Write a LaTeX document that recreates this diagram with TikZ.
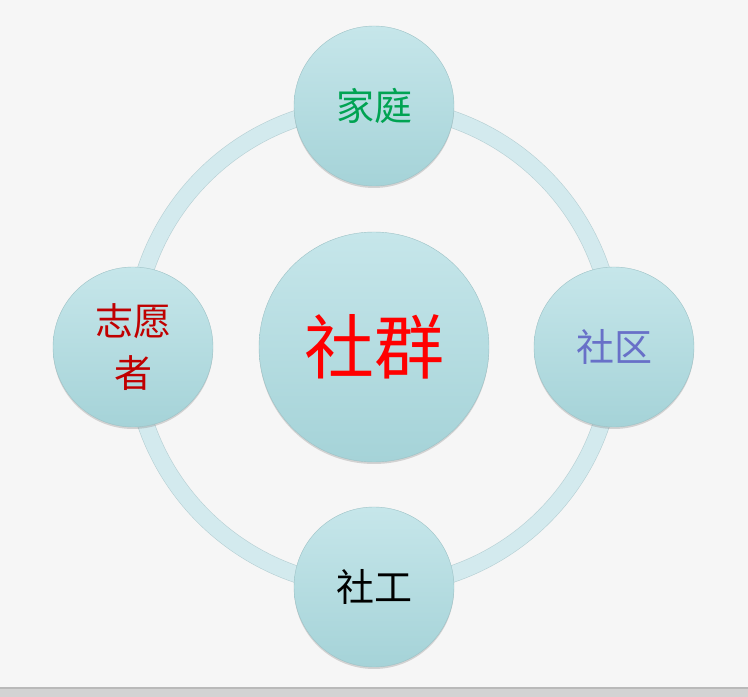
\documentclass[tikz,border=0pt]{standalone}
\usepackage{fontspec}
\newfontfamily\cjk{Noto Sans CJK SC}
\usepackage{tikz}
\usetikzlibrary{backgrounds,shadows}

\definecolor{backdrop}{HTML}{F6F6F6}
\definecolor{strip}{HTML}{D3D3D3}
\definecolor{stripline}{HTML}{B9B9B9}
\definecolor{ringfill}{HTML}{D3EAEE}
\definecolor{ringedge}{HTML}{B7D0D4}
\definecolor{balltop}{HTML}{C6E6EA}
\definecolor{ballbot}{HTML}{A5D3D8}
\definecolor{jiagreen}{HTML}{00A352}
\definecolor{qublue}{HTML}{6870C8}
\definecolor{zhired}{HTML}{C00000}

\tikzset{
  ball/.style={circle,top color=balltop,bottom color=ballbot,draw=ballbot!80!gray,line width=0.4pt,
    minimum size=160pt,inner sep=0pt,align=center,
    drop shadow={opacity=0.3,shadow xshift=0pt,shadow yshift=-2pt}},
  ring/.style={draw=ringedge,line width=0.6pt,double=ringfill,double distance=16pt}
}

\begin{document}
\begin{tikzpicture}[x=1pt,y=1pt]
\useasboundingbox (0,0) rectangle (748,697);
\begin{scope}[on background layer]
\fill[backdrop] (0,0) rectangle (748,697);
\fill[strip] (0,0) rectangle (748,9);
\draw[stripline,line width=1.5pt] (0,9) -- (748,9);
\end{scope}
\node[ball,minimum size=230pt,font=\cjk\fontsize{70}{80}\selectfont,text=red] (shequn) at (374,350) {社群};
\node[ball,font=\cjk\fontsize{38}{48}\selectfont,text=jiagreen] (jiating) at (374,591) {家庭};
\node[ball,font=\cjk\fontsize{38}{48}\selectfont,text=qublue] (shequ) at (614,350) {社区};
\node[ball,font=\cjk\fontsize{38}{48}\selectfont,text=black] (shegong) at (374,110) {社工};
\node[ball,font=\cjk\fontsize{38}{52}\selectfont,text=zhired] (zhiyuan) at (133,350) {志愿\\者};
\begin{scope}[on background layer]
\draw[ring] (jiating.center) to[bend left=45] (shequ.center);
\draw[ring] (shequ.center) to[bend left=45] (shegong.center);
\draw[ring] (shegong.center) to[bend left=45] (zhiyuan.center);
\draw[ring] (zhiyuan.center) to[bend left=45] (jiating.center);
\end{scope}
\end{tikzpicture}
\end{document}
